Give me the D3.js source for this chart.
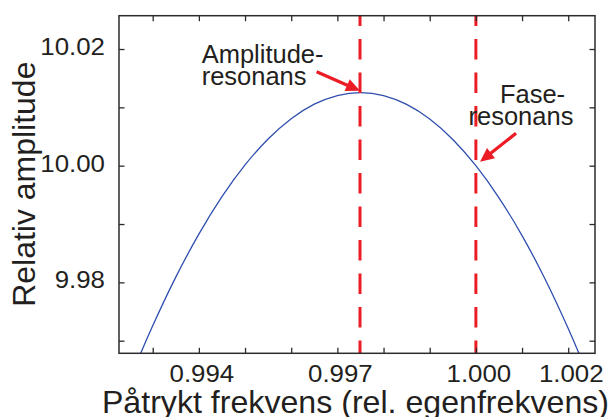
<!DOCTYPE html>
<html>
<head>
<meta charset="utf-8">
<script src="https://cdn.jsdelivr.net/npm/d3@7"></script>
<style>
  html, body { margin: 0; padding: 0; background: #fff; }
  svg { display: block; font-family: "Liberation Sans", Arial, Helvetica, sans-serif; }
</style>
</head>
<body>
<svg id="chart" width="611" height="417"></svg>
<script>
// ---- Data ----
const freq = [0.9920, 0.9925, 0.9930, 0.9935, 0.9940, 0.9945, 0.9950, 0.9955, 0.9960, 0.9965,
              0.9970, 0.9975, 0.9980, 0.9985, 0.9990, 0.9995, 1.0000, 1.0005, 1.0010, 1.0015,
              1.0020, 1.0025, 1.0030];
const amplitude = [9.95302, 9.96327, 9.97255, 9.98090, 9.98827, 9.99468, 10.00013, 10.00458, 10.00806, 10.01054,
                   10.01203, 10.01252, 10.01202, 10.01051, 10.00801, 10.00450, 10.00000, 9.99450, 9.98802, 9.98054,
                   9.97208, 9.96265, 9.95225];
const resonanceFreqs = [0.99749, 1.0000];
const xTicks = [0.993, 0.994, 0.995, 0.996, 0.997, 0.998, 0.999, 1.000, 1.001, 1.002];
const xTickLabels = ["0.994", "0.997", "1.000", "1.002"];
const xTickLabelValues = [0.994, 0.997, 1.000, 1.002];
const yTicks = [9.97, 9.98, 9.99, 10.00, 10.01, 10.02];
const yTickLabels = ["9.98", "10.00", "10.02"];
const yTickLabelValues = [9.98, 10.00, 10.02];
const annotationLines = [
  { text: "Amplitude-", f: 0.99406, a: 10.01755 },
  { text: "resonans",   f: 0.99406, a: 10.01383 },
  { text: "Fase-",      f: 1.00052, a: 10.01069 },
  { text: "resonans",   f: 0.99984, a: 10.00697 }
];
const arrows = [
  { from: [0.99655, 10.0161], to: [0.99749, 10.01285] },
  { from: [1.00087, 10.00555], to: [1.00009, 10.00068] }
];
const xTitle = "Påtrykt frekvens (rel. egenfrekvens)";
const yTitle = "Relativ amplitude";

// ---- Layout ----
const svg = d3.select("#chart");
const pLeft = 119, pRight = 595, pTop = 15.7, pBottom = 353.3;
const x = d3.scaleLinear().domain([0.99227, 1.00258]).range([pLeft, pRight]);
const y = d3.scaleLinear().domain([9.96784, 10.02571]).range([pBottom, pTop]);
const axisColor = "#2b2b2b";
const red = "#ec1c24";
const blue = "#2f4fae";
const tickLen = 5.5;

svg.append("defs").append("clipPath").attr("id", "plotclip")
  .append("rect").attr("x", pLeft).attr("y", pTop).attr("width", pRight - pLeft).attr("height", pBottom - pTop);

const plot = svg.append("g").attr("clip-path", "url(#plotclip)");

// curve
const line = d3.line().x((d, i) => x(freq[i])).y(d => y(d)).curve(d3.curveNatural);
plot.append("path").datum(amplitude)
  .attr("d", line).attr("fill", "none").attr("stroke", blue).attr("stroke-width", 1.3);

// resonance dashed lines
plot.selectAll("line.res").data(resonanceFreqs).enter().append("line")
  .attr("class", "res")
  .attr("x1", d => x(d)).attr("x2", d => x(d))
  .attr("y1", pTop).attr("y2", pBottom)
  .attr("stroke", red).attr("stroke-width", 3)
  .attr("stroke-dasharray", "20.5,13").attr("stroke-dashoffset", 10.2);

// frame axes
const axes = svg.append("g");
const xb = d3.axisBottom(x).tickValues(xTicks).tickSizeInner(-tickLen).tickSizeOuter(0).tickFormat("");
const xt = d3.axisTop(x).tickValues(xTicks).tickSizeInner(-tickLen).tickSizeOuter(0).tickFormat("");
const yl = d3.axisLeft(y).tickValues(yTicks).tickSizeInner(-tickLen).tickSizeOuter(0).tickFormat("");
const yr = d3.axisRight(y).tickValues(yTicks).tickSizeInner(-tickLen).tickSizeOuter(0).tickFormat("");
axes.append("g").attr("transform", `translate(0,${pBottom})`).call(xb);
axes.append("g").attr("transform", `translate(0,${pTop})`).call(xt);
axes.append("g").attr("transform", `translate(${pLeft},0)`).call(yl);
axes.append("g").attr("transform", `translate(${pRight},0)`).call(yr);
axes.selectAll(".domain").remove();
axes.selectAll("line").attr("stroke", axisColor).attr("stroke-width", 1.3);
axes.append("rect").attr("x", pLeft).attr("y", pTop).attr("width", pRight - pLeft).attr("height", pBottom - pTop)
  .attr("fill", "none").attr("stroke", axisColor).attr("stroke-width", 1.5);

const stretch = 1.1;
function widen(sel, k) {
  sel.each(function() {
    const w = this.getComputedTextLength();
    d3.select(this).attr("textLength", w * k).attr("lengthAdjust", "spacingAndGlyphs");
  });
}

// x tick labels
const xl = svg.append("g").selectAll("text").data(xTickLabelValues).enter().append("text")
  .attr("x", (d) => x(d) + 3).attr("y", pBottom + 28.4)
  .attr("text-anchor", "middle").attr("font-size", 23.5).attr("fill", "#231f20")
  .text((d, i) => xTickLabels[i]);
widen(xl, stretch);

// y tick labels
const ylab = svg.append("g").selectAll("text").data(yTickLabelValues).enter().append("text")
  .attr("x", pLeft - 14).attr("y", d => y(d) + 6)
  .attr("text-anchor", "end").attr("font-size", 23.5).attr("fill", "#231f20")
  .text((d, i) => yTickLabels[i]);
widen(ylab, stretch);

// axis titles
const xtt = svg.append("text").attr("x", 355.5).attr("y", 412.5).attr("text-anchor", "middle")
  .attr("font-size", 31.5).attr("fill", "#231f20").text(xTitle);
widen(xtt, 1.02);
const ytt = svg.append("text").attr("transform", "translate(35,184.2) rotate(-90)")
  .attr("text-anchor", "middle").attr("font-size", 31.5).attr("fill", "#231f20").text(yTitle);
widen(ytt, 1.015);

// annotations
svg.append("g").selectAll("text").data(annotationLines).enter().append("text")
  .attr("x", d => x(d.f)).attr("y", d => y(d.a))
  .attr("font-size", 25.5).attr("fill", "#231f20").text(d => d.text);

const ag = svg.append("g");
arrows.forEach(a => {
  const x0 = x(a.from[0]), y0 = y(a.from[1]), x1 = x(a.to[0]), y1 = y(a.to[1]);
  const dx = x1 - x0, dy = y1 - y0, L = Math.hypot(dx, dy);
  const ux = dx / L, uy = dy / L, nx = -uy, ny = ux;
  const hl = 14, hw = 6.5;
  const bx = x1 - ux * hl, by = y1 - uy * hl;
  ag.append("line").attr("x1", x0).attr("y1", y0).attr("x2", bx + ux * 2).attr("y2", by + uy * 2)
    .attr("stroke", red).attr("stroke-width", 3.2);
  ag.append("path")
    .attr("d", d3.line()([[x1, y1], [bx + nx * hw, by + ny * hw], [bx - nx * hw, by - ny * hw]]) + "Z")
    .attr("fill", red);
});
</script>
</body>
</html>
